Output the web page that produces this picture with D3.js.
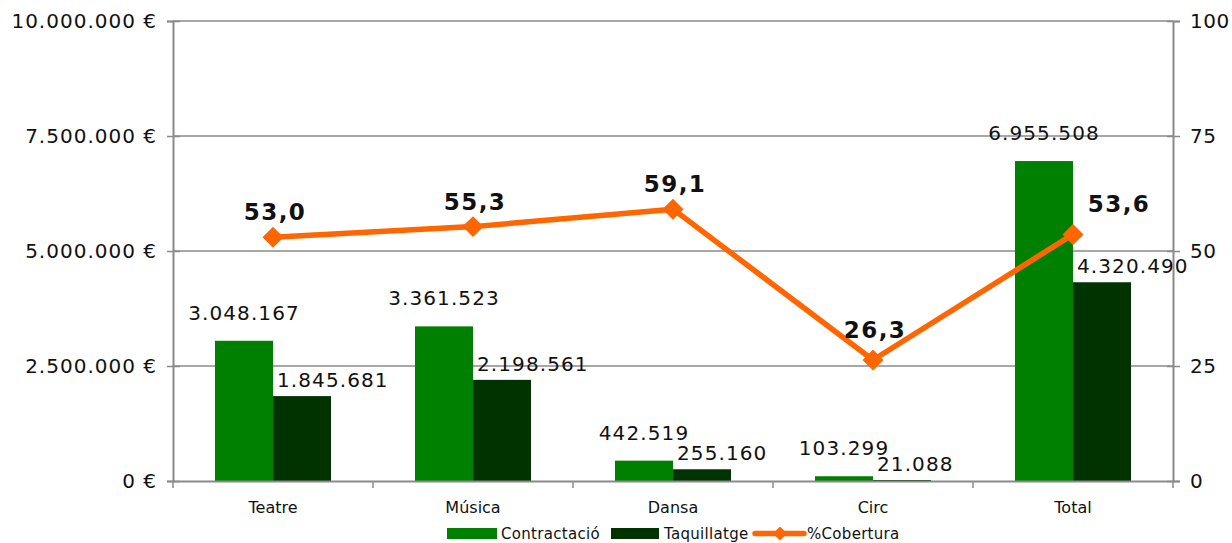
<!DOCTYPE html>
<html>
<head>
<meta charset="utf-8">
<script src="https://cdn.jsdelivr.net/npm/d3@7"></script>
<style>
  html, body { margin: 0; padding: 0; background: #fff; }
  svg { display: block; font-family: "DejaVu Sans", Verdana, sans-serif; }
</style>
</head>
<body>
<svg id="chart" width="1232" height="543"></svg>
<script>
const categories = ["Teatre", "Música", "Dansa", "Circ", "Total"];
const contractacio = [3048167, 3361523, 442519, 103299, 6955508];
const taquillatge = [1845681, 2198561, 255160, 21088, 4320490];
const cobertura = [53.0, 55.3, 59.1, 26.3, 53.6];
const leftTicks = [0, 2500000, 5000000, 7500000, 10000000];
const rightTicks = [0, 25, 50, 75, 100];
const seriesNames = ["Contractació", "Taquillatge", "%Cobertura"];

const colors = { c: "#008000", t: "#003300", line: "#FF6600", axis: "#8a8a8a" };

const svg = d3.select("#chart");
const L = 173, R = 1173, T = 21, B = 481;

const x = d3.scaleBand().domain(categories).range([L, R]).padding(0);
const sub = d3.scaleBand().domain(["c", "t"]).range([42, 158]).padding(0);
const yL = d3.scaleLinear().domain([0, 10000000]).range([B, T]);
const yR = d3.scaleLinear().domain([0, 100]).range([B, T]);

const fmtNum = v => d3.format(",")(v).replace(/,/g, ".");
const fmtEur = v => fmtNum(v) + " €";
const fmtPct = v => d3.format(".1f")(v).replace(".", ",");

// gridlines
svg.append("g").selectAll("line").data(leftTicks.slice(1)).join("line")
  .attr("x1", L).attr("x2", R)
  .attr("y1", d => yL(d)).attr("y2", d => yL(d))
  .attr("stroke", colors.axis).attr("stroke-width", 1.5);

// bars
const barData = categories.map((c, i) => ({ cat: c, c: contractacio[i], t: taquillatge[i] }));
const gb = svg.append("g");
barData.forEach(d => {
  ["c", "t"].forEach(k => {
    gb.append("rect")
      .attr("x", x(d.cat) + sub(k))
      .attr("y", yL(d[k]))
      .attr("width", sub.bandwidth())
      .attr("height", B - yL(d[k]))
      .attr("fill", colors[k]);
  });
});

// left axis
const axL = d3.axisLeft(yL).tickValues(leftTicks).tickSize(6).tickFormat(fmtEur);
const gL = svg.append("g").attr("transform", `translate(${L},0)`).call(axL);
gL.select(".domain").attr("stroke", colors.axis).attr("stroke-width", 2);
gL.selectAll(".tick line").attr("stroke", colors.axis).attr("stroke-width", 1.5).attr("x2", -6).attr("x1", 7);
gL.selectAll(".tick text").attr("x", -16).attr("font-size", 20).attr("letter-spacing", 1)
  .attr("fill", "#111").attr("font-family", "DejaVu Sans");

// right axis
const axR = d3.axisRight(yR).tickValues(rightTicks).tickSize(7).tickFormat(d => d);
const gR = svg.append("g").attr("transform", `translate(${R},0)`).call(axR);
gR.select(".domain").attr("stroke", colors.axis).attr("stroke-width", 2);
gR.selectAll(".tick line").attr("stroke", colors.axis).attr("stroke-width", 1.5).attr("x1", -6).attr("x2", 7);
gR.selectAll(".tick text").attr("x", 17).attr("font-size", 20).attr("letter-spacing", 0.5)
  .attr("fill", "#111").attr("font-family", "DejaVu Sans");

// bottom axis
const axB = d3.axisBottom(x).tickSize(0).tickFormat(d => d);
const gB = svg.append("g").attr("transform", `translate(0,${B})`).call(axB);
gB.select(".domain").attr("stroke", colors.axis).attr("stroke-width", 2);
gB.selectAll(".tick text").attr("y", 32).attr("dy", 0).attr("font-size", 16)
  .attr("fill", "#111").attr("font-family", "DejaVu Sans");
const bounds = categories.map(c => x(c)).concat([R]);
gB.append("g").selectAll("line").data(bounds).join("line")
  .attr("x1", d => d).attr("x2", d => d).attr("y1", 0).attr("y2", 7)
  .attr("stroke", colors.axis).attr("stroke-width", 1.5);

// value labels
const gv = svg.append("g").attr("font-size", 20).attr("letter-spacing", 1.1).attr("fill", "#111");
barData.forEach(d => {
  gv.append("text")
    .attr("x", x(d.cat) + sub("c") + sub.bandwidth() / 2)
    .attr("y", yL(d.c) - 21)
    .attr("text-anchor", "middle")
    .text(fmtNum(d.c));
  gv.append("text")
    .attr("x", x(d.cat) + sub("t") + 4)
    .attr("y", yL(d.t) - 9)
    .attr("text-anchor", "start")
    .text(fmtNum(d.t));
});

// line
const pts = categories.map((c, i) => ({ cat: c, v: cobertura[i], i }));
const line = d3.line().x(d => x(d.cat) + x.bandwidth() / 2).y(d => yR(d.v));
svg.append("path").datum(pts).attr("d", line)
  .attr("fill", "none").attr("stroke", colors.line).attr("stroke-width", 5.5).attr("stroke-linejoin", "round");
const diamond = d3.symbol().type(d3.symbolSquare).size(220);
svg.append("g").selectAll("path").data(pts).join("path")
  .attr("d", diamond)
  .attr("transform", d => `translate(${x(d.cat) + x.bandwidth() / 2},${yR(d.v)}) rotate(45)`)
  .attr("fill", colors.line);
svg.append("g").selectAll("text").data(pts).join("text")
  .attr("x", d => x(d.cat) + x.bandwidth() / 2 + (d.i === pts.length - 1 ? 46 : 2))
  .attr("y", d => yR(d.v) - (d.v < 30 || d.i === pts.length - 1 ? 22 : 17))
  .attr("text-anchor", "middle")
  .attr("font-size", 23).attr("font-weight", "bold").attr("letter-spacing", 1.5).attr("fill", "#111")
  .text(d => fmtPct(d.v));

// legend
const lg = svg.append("g").attr("font-size", 15).attr("fill", "#111").attr("letter-spacing", 0.3);
lg.append("rect").attr("x", 447).attr("y", 528).attr("width", 50).attr("height", 11).attr("fill", colors.c);
lg.append("text").attr("x", 501).attr("y", 539).text(seriesNames[0]);
lg.append("rect").attr("x", 611).attr("y", 528).attr("width", 48).attr("height", 11).attr("fill", colors.t);
lg.append("text").attr("x", 664).attr("y", 539).text(seriesNames[1]);
lg.append("line").attr("x1", 755).attr("x2", 804).attr("y1", 533.5).attr("y2", 533.5)
  .attr("stroke", colors.line).attr("stroke-width", 5.5).attr("stroke-linecap", "round");
lg.append("path").attr("d", d3.symbol().type(d3.symbolSquare).size(100))
  .attr("transform", "translate(780,533.5) rotate(45)").attr("fill", colors.line);
lg.append("text").attr("x", 807).attr("y", 539).text(seriesNames[2]);
</script>
</body>
</html>
